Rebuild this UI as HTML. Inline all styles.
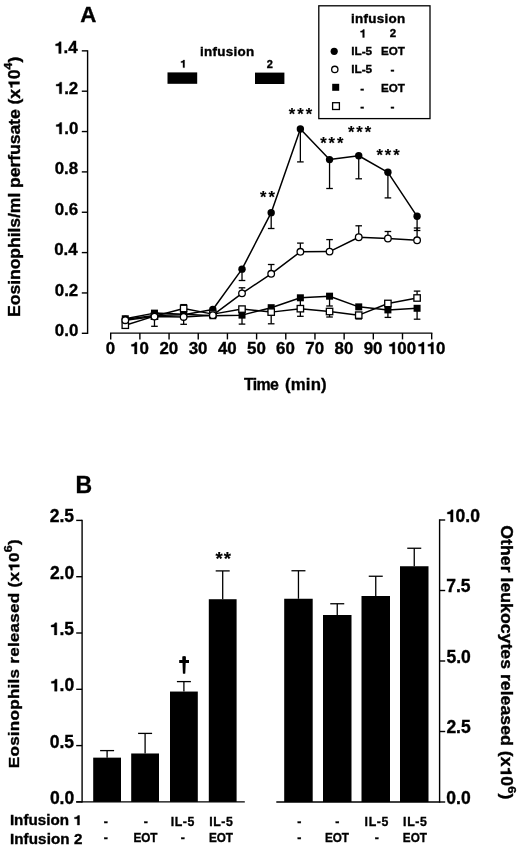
<!DOCTYPE html>
<html><head><meta charset="utf-8"><style>
html,body{margin:0;padding:0;background:#fff;}
svg{display:block;filter:grayscale(1);}
text{font-family:"Liberation Sans", sans-serif;fill:#000;stroke:#000;stroke-width:0.35px;}
</style></head><body>
<svg width="520" height="848" viewBox="0 0 520 848">
<rect width="520" height="848" fill="#fff"/>
<text x="80.24" y="22.45" font-size="22.3" font-weight="bold">A</text>
<line x1="87.60" y1="50.15" x2="87.60" y2="334.00" stroke="#000" stroke-width="1.4"/>
<line x1="81.80" y1="333.30" x2="87.60" y2="333.30" stroke="#000" stroke-width="1.4"/>
<text x="54.80" y="335.85" font-size="16.9" font-weight="bold">0.0</text>
<line x1="81.80" y1="292.95" x2="87.60" y2="292.95" stroke="#000" stroke-width="1.4"/>
<text x="54.78" y="295.50" font-size="16.9" font-weight="bold">0.2</text>
<line x1="81.80" y1="252.60" x2="87.60" y2="252.60" stroke="#000" stroke-width="1.4"/>
<text x="54.20" y="255.15" font-size="16.9" font-weight="bold">0.4</text>
<line x1="81.80" y1="212.25" x2="87.60" y2="212.25" stroke="#000" stroke-width="1.4"/>
<text x="54.72" y="214.80" font-size="16.9" font-weight="bold">0.6</text>
<line x1="81.80" y1="171.90" x2="87.60" y2="171.90" stroke="#000" stroke-width="1.4"/>
<text x="54.63" y="174.45" font-size="16.9" font-weight="bold">0.8</text>
<line x1="81.80" y1="131.55" x2="87.60" y2="131.55" stroke="#000" stroke-width="1.4"/>
<text x="54.80" y="134.10" font-size="16.9" font-weight="bold"> .0</text>
<path transform="translate(54.80,134.10) scale(1.0000,1) translate(0.000,0) scale(0.00825,-0.00825)" d="M550,0 L840,0 L840,1409 L620,1409 C590,1250 430,1150 170,1140 L170,930 L550,930 Z" fill="#000" stroke="#000" stroke-width="42.4"/>
<line x1="81.80" y1="91.20" x2="87.60" y2="91.20" stroke="#000" stroke-width="1.4"/>
<text x="54.78" y="93.75" font-size="16.9" font-weight="bold"> .2</text>
<path transform="translate(54.78,93.75) scale(1.0000,1) translate(0.000,0) scale(0.00825,-0.00825)" d="M550,0 L840,0 L840,1409 L620,1409 C590,1250 430,1150 170,1140 L170,930 L550,930 Z" fill="#000" stroke="#000" stroke-width="42.4"/>
<line x1="81.80" y1="50.85" x2="87.60" y2="50.85" stroke="#000" stroke-width="1.4"/>
<text x="54.20" y="53.40" font-size="16.9" font-weight="bold"> .4</text>
<path transform="translate(54.20,53.40) scale(1.0000,1) translate(0.000,0) scale(0.00825,-0.00825)" d="M550,0 L840,0 L840,1409 L620,1409 C590,1250 430,1150 170,1140 L170,930 L550,930 Z" fill="#000" stroke="#000" stroke-width="42.4"/>
<line x1="110.00" y1="333.10" x2="432.38" y2="333.10" stroke="#000" stroke-width="1.4"/>
<line x1="110.70" y1="333.10" x2="110.70" y2="339.40" stroke="#000" stroke-width="1.4"/>
<text x="105.71" y="353.90" font-size="16.9" font-weight="bold">0</text>
<line x1="139.88" y1="333.10" x2="139.88" y2="339.40" stroke="#000" stroke-width="1.4"/>
<text x="130.00" y="353.90" font-size="16.9" font-weight="bold"> 0</text>
<path transform="translate(130.00,353.90) scale(1.0000,1) translate(0.000,0) scale(0.00825,-0.00825)" d="M550,0 L840,0 L840,1409 L620,1409 C590,1250 430,1150 170,1140 L170,930 L550,930 Z" fill="#000" stroke="#000" stroke-width="42.4"/>
<line x1="169.06" y1="333.10" x2="169.06" y2="339.40" stroke="#000" stroke-width="1.4"/>
<text x="159.41" y="353.90" font-size="16.9" font-weight="bold">20</text>
<line x1="198.24" y1="333.10" x2="198.24" y2="339.40" stroke="#000" stroke-width="1.4"/>
<text x="188.69" y="353.90" font-size="16.9" font-weight="bold">30</text>
<line x1="227.42" y1="333.10" x2="227.42" y2="339.40" stroke="#000" stroke-width="1.4"/>
<text x="217.94" y="353.90" font-size="16.9" font-weight="bold">40</text>
<line x1="256.60" y1="333.10" x2="256.60" y2="339.40" stroke="#000" stroke-width="1.4"/>
<text x="246.99" y="353.90" font-size="16.9" font-weight="bold">50</text>
<line x1="285.78" y1="333.10" x2="285.78" y2="339.40" stroke="#000" stroke-width="1.4"/>
<text x="276.12" y="353.90" font-size="16.9" font-weight="bold">60</text>
<line x1="314.96" y1="333.10" x2="314.96" y2="339.40" stroke="#000" stroke-width="1.4"/>
<text x="305.24" y="353.90" font-size="16.9" font-weight="bold">70</text>
<line x1="344.14" y1="333.10" x2="344.14" y2="339.40" stroke="#000" stroke-width="1.4"/>
<text x="334.52" y="353.90" font-size="16.9" font-weight="bold">80</text>
<line x1="373.32" y1="333.10" x2="373.32" y2="339.40" stroke="#000" stroke-width="1.4"/>
<text x="363.67" y="353.90" font-size="16.9" font-weight="bold">90</text>
<line x1="402.50" y1="333.10" x2="402.50" y2="339.40" stroke="#000" stroke-width="1.4"/>
<text x="387.92" y="353.90" font-size="16.9" font-weight="bold"> 00</text>
<path transform="translate(387.92,353.90) scale(1.0000,1) translate(0.000,0) scale(0.00825,-0.00825)" d="M550,0 L840,0 L840,1409 L620,1409 C590,1250 430,1150 170,1140 L170,930 L550,930 Z" fill="#000" stroke="#000" stroke-width="42.4"/>
<line x1="431.68" y1="333.10" x2="431.68" y2="339.40" stroke="#000" stroke-width="1.4"/>
<text x="417.10" y="353.90" font-size="16.9" font-weight="bold">  0</text>
<path transform="translate(417.10,353.90) scale(1.0000,1) translate(0.000,0) scale(0.00825,-0.00825)" d="M550,0 L840,0 L840,1409 L620,1409 C590,1250 430,1150 170,1140 L170,930 L550,930 Z" fill="#000" stroke="#000" stroke-width="42.4"/>
<path transform="translate(417.10,353.90) scale(1.0000,1) translate(9.399,0) scale(0.00825,-0.00825)" d="M550,0 L840,0 L840,1409 L620,1409 C590,1250 430,1150 170,1140 L170,930 L550,930 Z" fill="#000" stroke="#000" stroke-width="42.4"/>
<text transform="translate(244.12,390.40) scale(0.9200,1)" font-size="17.3" font-weight="bold" letter-spacing="-0.734">Time</text>
<text transform="translate(285.06,390.40) scale(0.9700,1)" font-size="17.3" font-weight="bold" letter-spacing="0.145">(min)</text>
<text transform="translate(19.50,316.93) rotate(-90) scale(1.12,1)" font-size="15.8" font-weight="bold" letter-spacing="-0.103">Eosinophils/ml perfusate (x 0<tspan font-size="11.5" dy="-7.11">4</tspan><tspan dy="7.11">)</tspan></text>
<path transform="translate(19.50,316.93) rotate(-90) scale(1.12,1) translate(203.545,0) scale(0.00771,-0.00771)" d="M550,0 L840,0 L840,1409 L620,1409 C590,1250 430,1150 170,1140 L170,930 L550,930 Z" fill="#000" stroke="#000" stroke-width="45.4"/>
<rect x="167.50" y="72.40" width="29.70" height="11.40" fill="#000"/>
<rect x="255.00" y="72.60" width="29.40" height="11.40" fill="#000"/>
<text x="180.05" y="67.60" font-size="11" font-weight="bold"> </text>
<path transform="translate(180.05,67.60) scale(1.0000,1) translate(0.000,0) scale(0.00537,-0.00537)" d="M550,0 L840,0 L840,1409 L620,1409 C590,1250 430,1150 170,1140 L170,930 L550,930 Z" fill="#000" stroke="#000" stroke-width="65.2"/>
<text x="266.87" y="67.60" font-size="11" font-weight="bold">2</text>
<text transform="translate(200.06,55.80) scale(1.1000,1)" font-size="12.2" font-weight="bold" letter-spacing="0.245">infusion</text>
<rect x="318.8" y="5.8" width="111.2" height="112.8" fill="none" stroke="#000" stroke-width="1.3"/>
<text transform="translate(351.06,22.60) scale(1.1000,1)" font-size="12.2" font-weight="bold" letter-spacing="0.245">infusion</text>
<text x="359.60" y="37.40" font-size="11.5" font-weight="bold"> </text>
<path transform="translate(359.60,37.40) scale(1.0000,1) translate(0.000,0) scale(0.00562,-0.00562)" d="M550,0 L840,0 L840,1409 L620,1409 C590,1250 430,1150 170,1140 L170,930 L550,930 Z" fill="#000" stroke="#000" stroke-width="62.3"/>
<text x="389.83" y="37.40" font-size="11.5" font-weight="bold">2</text>
<circle cx="334.2" cy="51.3" r="3.6" fill="#000"/>
<circle cx="334.8" cy="69.4" r="3.15" fill="#fff" stroke="#000" stroke-width="1.3"/>
<rect x="332.20" y="83.80" width="7.00" height="7.00" fill="#000"/>
<rect x="332.6" y="102.7" width="6.8" height="6.8" fill="#fff" stroke="#000" stroke-width="1.3"/>
<text x="351.21" y="55.10" font-size="11.8" font-weight="bold" letter-spacing="-0.020">IL-5</text>
<text transform="translate(380.92,55.10) scale(0.9854,1)" font-size="11.8" font-weight="bold">EOT</text>
<text x="351.21" y="73.30" font-size="11.8" font-weight="bold" letter-spacing="-0.020">IL-5</text>
<text x="390.54" y="73.30" font-size="11.8" font-weight="bold">-</text>
<text x="360.24" y="91.60" font-size="11.8" font-weight="bold">-</text>
<text transform="translate(380.92,91.60) scale(0.9854,1)" font-size="11.8" font-weight="bold">EOT</text>
<text x="360.24" y="109.90" font-size="11.8" font-weight="bold">-</text>
<text x="390.54" y="109.90" font-size="11.8" font-weight="bold">-</text>
<line x1="242.01" y1="269.14" x2="242.01" y2="280.50" stroke="#000" stroke-width="1.3"/>
<line x1="238.71" y1="280.50" x2="245.31" y2="280.50" stroke="#000" stroke-width="1.3"/>
<line x1="271.19" y1="212.65" x2="271.19" y2="228.50" stroke="#000" stroke-width="1.3"/>
<line x1="267.89" y1="228.50" x2="274.49" y2="228.50" stroke="#000" stroke-width="1.3"/>
<line x1="300.37" y1="128.93" x2="300.37" y2="161.90" stroke="#000" stroke-width="1.3"/>
<line x1="297.07" y1="161.90" x2="303.67" y2="161.90" stroke="#000" stroke-width="1.3"/>
<line x1="329.55" y1="159.59" x2="329.55" y2="188.50" stroke="#000" stroke-width="1.3"/>
<line x1="326.25" y1="188.50" x2="332.85" y2="188.50" stroke="#000" stroke-width="1.3"/>
<line x1="358.73" y1="155.76" x2="358.73" y2="178.80" stroke="#000" stroke-width="1.3"/>
<line x1="355.43" y1="178.80" x2="362.03" y2="178.80" stroke="#000" stroke-width="1.3"/>
<line x1="387.91" y1="172.30" x2="387.91" y2="197.90" stroke="#000" stroke-width="1.3"/>
<line x1="384.61" y1="197.90" x2="391.21" y2="197.90" stroke="#000" stroke-width="1.3"/>
<line x1="417.09" y1="216.29" x2="417.09" y2="230.50" stroke="#000" stroke-width="1.3"/>
<line x1="413.79" y1="230.50" x2="420.39" y2="230.50" stroke="#000" stroke-width="1.3"/>
<line x1="242.01" y1="293.35" x2="242.01" y2="287.80" stroke="#000" stroke-width="1.3"/>
<line x1="238.71" y1="287.80" x2="245.31" y2="287.80" stroke="#000" stroke-width="1.3"/>
<line x1="271.19" y1="273.78" x2="271.19" y2="264.50" stroke="#000" stroke-width="1.3"/>
<line x1="267.89" y1="264.50" x2="274.49" y2="264.50" stroke="#000" stroke-width="1.3"/>
<line x1="300.37" y1="251.79" x2="300.37" y2="243.10" stroke="#000" stroke-width="1.3"/>
<line x1="297.07" y1="243.10" x2="303.67" y2="243.10" stroke="#000" stroke-width="1.3"/>
<line x1="329.55" y1="251.59" x2="329.55" y2="239.60" stroke="#000" stroke-width="1.3"/>
<line x1="326.25" y1="239.60" x2="332.85" y2="239.60" stroke="#000" stroke-width="1.3"/>
<line x1="358.73" y1="237.27" x2="358.73" y2="225.80" stroke="#000" stroke-width="1.3"/>
<line x1="355.43" y1="225.80" x2="362.03" y2="225.80" stroke="#000" stroke-width="1.3"/>
<line x1="387.91" y1="238.48" x2="387.91" y2="231.50" stroke="#000" stroke-width="1.3"/>
<line x1="384.61" y1="231.50" x2="391.21" y2="231.50" stroke="#000" stroke-width="1.3"/>
<line x1="417.09" y1="240.29" x2="417.09" y2="228.00" stroke="#000" stroke-width="1.3"/>
<line x1="413.79" y1="228.00" x2="420.39" y2="228.00" stroke="#000" stroke-width="1.3"/>
<line x1="154.47" y1="316.55" x2="154.47" y2="326.30" stroke="#000" stroke-width="1.3"/>
<line x1="151.17" y1="326.30" x2="157.77" y2="326.30" stroke="#000" stroke-width="1.3"/>
<line x1="183.65" y1="316.96" x2="183.65" y2="324.30" stroke="#000" stroke-width="1.3"/>
<line x1="180.35" y1="324.30" x2="186.95" y2="324.30" stroke="#000" stroke-width="1.3"/>
<line x1="242.01" y1="315.14" x2="242.01" y2="324.10" stroke="#000" stroke-width="1.3"/>
<line x1="238.71" y1="324.10" x2="245.31" y2="324.10" stroke="#000" stroke-width="1.3"/>
<line x1="387.91" y1="309.90" x2="387.91" y2="317.40" stroke="#000" stroke-width="1.3"/>
<line x1="384.61" y1="317.40" x2="391.21" y2="317.40" stroke="#000" stroke-width="1.3"/>
<line x1="417.09" y1="308.28" x2="417.09" y2="319.20" stroke="#000" stroke-width="1.3"/>
<line x1="413.79" y1="319.20" x2="420.39" y2="319.20" stroke="#000" stroke-width="1.3"/>
<line x1="300.37" y1="297.79" x2="300.37" y2="305.60" stroke="#000" stroke-width="1.3"/>
<line x1="297.07" y1="305.60" x2="303.67" y2="305.60" stroke="#000" stroke-width="1.3"/>
<line x1="329.55" y1="296.18" x2="329.55" y2="306.00" stroke="#000" stroke-width="1.3"/>
<line x1="326.25" y1="306.00" x2="332.85" y2="306.00" stroke="#000" stroke-width="1.3"/>
<line x1="417.09" y1="297.99" x2="417.09" y2="291.10" stroke="#000" stroke-width="1.3"/>
<line x1="413.79" y1="291.10" x2="420.39" y2="291.10" stroke="#000" stroke-width="1.3"/>
<line x1="300.37" y1="308.69" x2="300.37" y2="316.30" stroke="#000" stroke-width="1.3"/>
<line x1="297.07" y1="316.30" x2="303.67" y2="316.30" stroke="#000" stroke-width="1.3"/>
<line x1="329.55" y1="311.51" x2="329.55" y2="317.00" stroke="#000" stroke-width="1.3"/>
<line x1="326.25" y1="317.00" x2="332.85" y2="317.00" stroke="#000" stroke-width="1.3"/>
<line x1="271.19" y1="312.12" x2="271.19" y2="323.80" stroke="#000" stroke-width="1.3"/>
<line x1="267.89" y1="323.80" x2="274.49" y2="323.80" stroke="#000" stroke-width="1.3"/>
<line x1="183.65" y1="308.48" x2="183.65" y2="304.60" stroke="#000" stroke-width="1.3"/>
<line x1="180.35" y1="304.60" x2="186.95" y2="304.60" stroke="#000" stroke-width="1.3"/>
<line x1="358.73" y1="315.14" x2="358.73" y2="319.00" stroke="#000" stroke-width="1.3"/>
<line x1="355.43" y1="319.00" x2="362.03" y2="319.00" stroke="#000" stroke-width="1.3"/>
<polyline points="125.29,325.23 154.47,316.15 183.65,308.48 212.83,314.13 242.01,309.09 271.19,312.12 300.37,308.69 329.55,311.51 358.73,315.14 387.91,303.44 417.09,297.99" fill="none" stroke="#000" stroke-width="1.5" stroke-linejoin="round"/>
<polyline points="125.29,318.77 154.47,313.12 183.65,314.13 212.83,315.75 242.01,315.14 271.19,307.68 300.37,297.79 329.55,296.18 358.73,306.87 387.91,309.90 417.09,308.28" fill="none" stroke="#000" stroke-width="1.5" stroke-linejoin="round"/>
<polyline points="125.29,320.19 154.47,316.55 183.65,316.96 212.83,315.14 242.01,293.35 271.19,273.78 300.37,251.79 329.55,251.59 358.73,237.27 387.91,238.48 417.09,240.29" fill="none" stroke="#000" stroke-width="1.5" stroke-linejoin="round"/>
<polyline points="125.29,319.18 154.47,315.55 183.65,314.74 212.83,309.49 242.01,269.14 271.19,212.65 300.37,128.93 329.55,159.59 358.73,155.76 387.91,172.30 417.09,216.29" fill="none" stroke="#000" stroke-width="1.5" stroke-linejoin="round"/>
<circle cx="125.29" cy="319.18" r="3.7" fill="#000"/>
<circle cx="154.47" cy="315.55" r="3.7" fill="#000"/>
<circle cx="183.65" cy="314.74" r="3.7" fill="#000"/>
<circle cx="212.83" cy="309.49" r="3.7" fill="#000"/>
<circle cx="242.01" cy="269.14" r="3.7" fill="#000"/>
<circle cx="271.19" cy="212.65" r="3.7" fill="#000"/>
<circle cx="300.37" cy="128.93" r="3.7" fill="#000"/>
<circle cx="329.55" cy="159.59" r="3.7" fill="#000"/>
<circle cx="358.73" cy="155.76" r="3.7" fill="#000"/>
<circle cx="387.91" cy="172.30" r="3.7" fill="#000"/>
<circle cx="417.09" cy="216.29" r="3.7" fill="#000"/>
<rect x="121.79" y="315.27" width="7.00" height="7.00" fill="#000"/>
<rect x="150.97" y="309.62" width="7.00" height="7.00" fill="#000"/>
<rect x="180.15" y="310.63" width="7.00" height="7.00" fill="#000"/>
<rect x="209.33" y="312.25" width="7.00" height="7.00" fill="#000"/>
<rect x="238.51" y="311.64" width="7.00" height="7.00" fill="#000"/>
<rect x="267.69" y="304.18" width="7.00" height="7.00" fill="#000"/>
<rect x="296.87" y="294.29" width="7.00" height="7.00" fill="#000"/>
<rect x="326.05" y="292.68" width="7.00" height="7.00" fill="#000"/>
<rect x="355.23" y="303.37" width="7.00" height="7.00" fill="#000"/>
<rect x="384.41" y="306.40" width="7.00" height="7.00" fill="#000"/>
<rect x="413.59" y="304.78" width="7.00" height="7.00" fill="#000"/>
<rect x="122.09" y="322.03" width="6.4" height="6.4" fill="#fff" stroke="#000" stroke-width="1.3"/>
<rect x="151.27" y="312.95" width="6.4" height="6.4" fill="#fff" stroke="#000" stroke-width="1.3"/>
<rect x="180.45" y="305.28" width="6.4" height="6.4" fill="#fff" stroke="#000" stroke-width="1.3"/>
<rect x="209.63" y="310.93" width="6.4" height="6.4" fill="#fff" stroke="#000" stroke-width="1.3"/>
<rect x="238.81" y="305.89" width="6.4" height="6.4" fill="#fff" stroke="#000" stroke-width="1.3"/>
<rect x="267.99" y="308.92" width="6.4" height="6.4" fill="#fff" stroke="#000" stroke-width="1.3"/>
<rect x="297.17" y="305.49" width="6.4" height="6.4" fill="#fff" stroke="#000" stroke-width="1.3"/>
<rect x="326.35" y="308.31" width="6.4" height="6.4" fill="#fff" stroke="#000" stroke-width="1.3"/>
<rect x="355.53" y="311.94" width="6.4" height="6.4" fill="#fff" stroke="#000" stroke-width="1.3"/>
<rect x="384.71" y="300.24" width="6.4" height="6.4" fill="#fff" stroke="#000" stroke-width="1.3"/>
<rect x="413.89" y="294.79" width="6.4" height="6.4" fill="#fff" stroke="#000" stroke-width="1.3"/>
<circle cx="125.29" cy="320.19" r="3.3" fill="#fff" stroke="#000" stroke-width="1.3"/>
<circle cx="154.47" cy="316.55" r="3.3" fill="#fff" stroke="#000" stroke-width="1.3"/>
<circle cx="183.65" cy="316.96" r="3.3" fill="#fff" stroke="#000" stroke-width="1.3"/>
<circle cx="212.83" cy="315.14" r="3.3" fill="#fff" stroke="#000" stroke-width="1.3"/>
<circle cx="242.01" cy="293.35" r="3.3" fill="#fff" stroke="#000" stroke-width="1.3"/>
<circle cx="271.19" cy="273.78" r="3.3" fill="#fff" stroke="#000" stroke-width="1.3"/>
<circle cx="300.37" cy="251.79" r="3.3" fill="#fff" stroke="#000" stroke-width="1.3"/>
<circle cx="329.55" cy="251.59" r="3.3" fill="#fff" stroke="#000" stroke-width="1.3"/>
<circle cx="358.73" cy="237.27" r="3.3" fill="#fff" stroke="#000" stroke-width="1.3"/>
<circle cx="387.91" cy="238.48" r="3.3" fill="#fff" stroke="#000" stroke-width="1.3"/>
<circle cx="417.09" cy="240.29" r="3.3" fill="#fff" stroke="#000" stroke-width="1.3"/>
<text style="stroke-width:0.15px" x="260.10" y="203.06" font-size="16.5" font-weight="bold" letter-spacing="1.922">**</text>
<text style="stroke-width:0.15px" x="288.70" y="120.16" font-size="16.5" font-weight="bold" letter-spacing="2.101">***</text>
<text style="stroke-width:0.15px" x="320.30" y="148.96" font-size="16.5" font-weight="bold" letter-spacing="1.901">***</text>
<text style="stroke-width:0.15px" x="348.00" y="138.06" font-size="16.5" font-weight="bold" letter-spacing="1.901">***</text>
<text style="stroke-width:0.15px" x="376.50" y="161.46" font-size="16.5" font-weight="bold" letter-spacing="1.951">***</text>
<text x="75.51" y="492.65" font-size="23.0" font-weight="bold">B</text>
<line x1="82.10" y1="519.70" x2="82.10" y2="802.60" stroke="#000" stroke-width="1.4"/>
<line x1="76.20" y1="801.90" x2="82.10" y2="801.90" stroke="#000" stroke-width="1.4"/>
<text x="49.89" y="803.80" font-size="17.5" font-weight="bold">0.0</text>
<line x1="76.20" y1="745.60" x2="82.10" y2="745.60" stroke="#000" stroke-width="1.4"/>
<text x="49.66" y="747.50" font-size="17.5" font-weight="bold">0.5</text>
<line x1="76.20" y1="689.30" x2="82.10" y2="689.30" stroke="#000" stroke-width="1.4"/>
<text x="49.89" y="691.20" font-size="17.5" font-weight="bold"> .0</text>
<path transform="translate(49.89,691.20) scale(1.0000,1) translate(0.000,0) scale(0.00854,-0.00854)" d="M550,0 L840,0 L840,1409 L620,1409 C590,1250 430,1150 170,1140 L170,930 L550,930 Z" fill="#000" stroke="#000" stroke-width="41.0"/>
<line x1="76.20" y1="633.00" x2="82.10" y2="633.00" stroke="#000" stroke-width="1.4"/>
<text x="49.66" y="634.90" font-size="17.5" font-weight="bold"> .5</text>
<path transform="translate(49.66,634.90) scale(1.0000,1) translate(0.000,0) scale(0.00854,-0.00854)" d="M550,0 L840,0 L840,1409 L620,1409 C590,1250 430,1150 170,1140 L170,930 L550,930 Z" fill="#000" stroke="#000" stroke-width="41.0"/>
<line x1="76.20" y1="576.70" x2="82.10" y2="576.70" stroke="#000" stroke-width="1.4"/>
<text x="49.89" y="578.60" font-size="17.5" font-weight="bold">2.0</text>
<line x1="76.20" y1="520.40" x2="82.10" y2="520.40" stroke="#000" stroke-width="1.4"/>
<text x="49.66" y="522.30" font-size="17.5" font-weight="bold">2.5</text>
<line x1="76.20" y1="801.90" x2="244.80" y2="801.90" stroke="#000" stroke-width="1.4"/>
<line x1="107.10" y1="757.65" x2="107.10" y2="750.60" stroke="#000" stroke-width="1.3"/>
<line x1="100.10" y1="750.60" x2="114.10" y2="750.60" stroke="#000" stroke-width="1.3"/>
<rect x="93.20" y="757.65" width="27.80" height="44.25" fill="#000"/>
<line x1="145.10" y1="753.48" x2="145.10" y2="733.40" stroke="#000" stroke-width="1.3"/>
<line x1="138.10" y1="733.40" x2="152.10" y2="733.40" stroke="#000" stroke-width="1.3"/>
<rect x="131.20" y="753.48" width="27.80" height="48.42" fill="#000"/>
<line x1="183.90" y1="691.55" x2="183.90" y2="681.60" stroke="#000" stroke-width="1.3"/>
<line x1="176.90" y1="681.60" x2="190.90" y2="681.60" stroke="#000" stroke-width="1.3"/>
<rect x="170.00" y="691.55" width="27.80" height="110.35" fill="#000"/>
<line x1="222.70" y1="599.22" x2="222.70" y2="570.90" stroke="#000" stroke-width="1.3"/>
<line x1="215.70" y1="570.90" x2="229.70" y2="570.90" stroke="#000" stroke-width="1.3"/>
<rect x="208.80" y="599.22" width="27.80" height="202.68" fill="#000"/>
<text style="stroke-width:0.15px" x="215.50" y="565.09" font-size="18.5" font-weight="bold" letter-spacing="1.173">**</text>
<path d="M182.3,656.6 Q184.1,655.6 185.9,656.6 L185.9,660.1 L189.0,660.1 L189.0,663.0 L185.7,663.0 L185.3,673.4 Q184.1,674.2 182.9,673.4 L182.5,663.0 L179.2,663.0 L179.2,660.1 L182.3,660.1 Z" fill="#000"/>
<line x1="439.60" y1="519.30" x2="439.60" y2="802.70" stroke="#000" stroke-width="1.4"/>
<line x1="276.30" y1="802.00" x2="439.60" y2="802.00" stroke="#000" stroke-width="1.4"/>
<line x1="439.60" y1="802.00" x2="445.20" y2="802.00" stroke="#000" stroke-width="1.4"/>
<text x="446.31" y="803.90" font-size="17.5" font-weight="bold">0.0</text>
<line x1="439.60" y1="731.50" x2="445.20" y2="731.50" stroke="#000" stroke-width="1.4"/>
<text x="446.39" y="733.40" font-size="17.5" font-weight="bold">2.5</text>
<line x1="439.60" y1="661.00" x2="445.20" y2="661.00" stroke="#000" stroke-width="1.4"/>
<text x="446.46" y="662.90" font-size="17.5" font-weight="bold">5.0</text>
<line x1="439.60" y1="590.50" x2="445.20" y2="590.50" stroke="#000" stroke-width="1.4"/>
<text x="446.25" y="592.40" font-size="17.5" font-weight="bold">7.5</text>
<line x1="439.60" y1="520.00" x2="445.20" y2="520.00" stroke="#000" stroke-width="1.4"/>
<text x="445.90" y="521.90" font-size="17.5" font-weight="bold"> 0.0</text>
<path transform="translate(445.90,521.90) scale(1.0000,1) translate(0.000,0) scale(0.00854,-0.00854)" d="M550,0 L840,0 L840,1409 L620,1409 C590,1250 430,1150 170,1140 L170,930 L550,930 Z" fill="#000" stroke="#000" stroke-width="41.0"/>
<line x1="298.45" y1="598.75" x2="298.45" y2="570.75" stroke="#000" stroke-width="1.3"/>
<line x1="291.45" y1="570.75" x2="305.45" y2="570.75" stroke="#000" stroke-width="1.3"/>
<rect x="284.20" y="598.75" width="28.50" height="203.25" fill="#000"/>
<line x1="337.25" y1="615.00" x2="337.25" y2="603.75" stroke="#000" stroke-width="1.3"/>
<line x1="330.25" y1="603.75" x2="344.25" y2="603.75" stroke="#000" stroke-width="1.3"/>
<rect x="323.00" y="615.00" width="28.50" height="187.00" fill="#000"/>
<line x1="375.75" y1="596.00" x2="375.75" y2="576.25" stroke="#000" stroke-width="1.3"/>
<line x1="368.75" y1="576.25" x2="382.75" y2="576.25" stroke="#000" stroke-width="1.3"/>
<rect x="361.50" y="596.00" width="28.50" height="206.00" fill="#000"/>
<line x1="414.25" y1="566.25" x2="414.25" y2="548.25" stroke="#000" stroke-width="1.3"/>
<line x1="407.25" y1="548.25" x2="421.25" y2="548.25" stroke="#000" stroke-width="1.3"/>
<rect x="400.00" y="566.25" width="28.50" height="235.75" fill="#000"/>
<text transform="translate(19.30,768.20) rotate(-90) scale(1.12,1)" font-size="15.3" font-weight="bold" letter-spacing="0.197">Eosinophils released (x 0<tspan font-size="11.2" dy="-6.89">6</tspan><tspan dy="6.89">)</tspan></text>
<path transform="translate(19.30,768.20) rotate(-90) scale(1.12,1) translate(175.441,0) scale(0.00747,-0.00747)" d="M550,0 L840,0 L840,1409 L620,1409 C590,1250 430,1150 170,1140 L170,930 L550,930 Z" fill="#000" stroke="#000" stroke-width="46.8"/>
<text transform="translate(500.70,525.32) rotate(90) scale(1.12,1)" font-size="15.8" font-weight="bold" letter-spacing="0.011">Other leukocytes released (x 0<tspan font-size="11.5" dy="-7.11">6</tspan><tspan dy="7.11">)</tspan></text>
<path transform="translate(500.70,525.32) rotate(90) scale(1.12,1) translate(215.473,0) scale(0.00771,-0.00771)" d="M550,0 L840,0 L840,1409 L620,1409 C590,1250 430,1150 170,1140 L170,930 L550,930 Z" fill="#000" stroke="#000" stroke-width="45.4"/>
<text transform="translate(9.88,825.00) scale(1.1000,1)" font-size="13.8" font-weight="bold" letter-spacing="0.016">Infusion  </text>
<path transform="translate(9.88,825.00) scale(1.1000,1) translate(57.632,0) scale(0.00674,-0.00674)" d="M550,0 L840,0 L840,1409 L620,1409 C590,1250 430,1150 170,1140 L170,930 L550,930 Z" fill="#000" stroke="#000" stroke-width="51.9"/>
<text transform="translate(9.88,843.80) scale(1.1000,1)" font-size="13.8" font-weight="bold" letter-spacing="0.095">Infusion 2</text>
<text x="103.76" y="825.70" font-size="12.3" font-weight="bold">-</text>
<text x="103.76" y="842.20" font-size="12.3" font-weight="bold">-</text>
<text x="143.76" y="825.70" font-size="12.3" font-weight="bold">-</text>
<text transform="translate(133.42,842.20) scale(0.9536,1)" font-size="12.3" font-weight="bold">EOT</text>
<text x="170.68" y="825.70" font-size="12.3" font-weight="bold" letter-spacing="0.633">IL-5</text>
<text x="180.76" y="842.20" font-size="12.3" font-weight="bold">-</text>
<text x="209.18" y="825.70" font-size="12.3" font-weight="bold" letter-spacing="0.633">IL-5</text>
<text transform="translate(208.92,842.20) scale(0.9536,1)" font-size="12.3" font-weight="bold">EOT</text>
<text x="297.26" y="825.70" font-size="12.3" font-weight="bold">-</text>
<text x="297.26" y="842.20" font-size="12.3" font-weight="bold">-</text>
<text x="335.26" y="825.70" font-size="12.3" font-weight="bold">-</text>
<text transform="translate(324.92,842.20) scale(0.9536,1)" font-size="12.3" font-weight="bold">EOT</text>
<text x="364.58" y="825.70" font-size="12.3" font-weight="bold" letter-spacing="0.633">IL-5</text>
<text x="374.66" y="842.20" font-size="12.3" font-weight="bold">-</text>
<text x="403.08" y="825.70" font-size="12.3" font-weight="bold" letter-spacing="0.633">IL-5</text>
<text transform="translate(402.82,842.20) scale(0.9536,1)" font-size="12.3" font-weight="bold">EOT</text>
</svg>
</body></html>
